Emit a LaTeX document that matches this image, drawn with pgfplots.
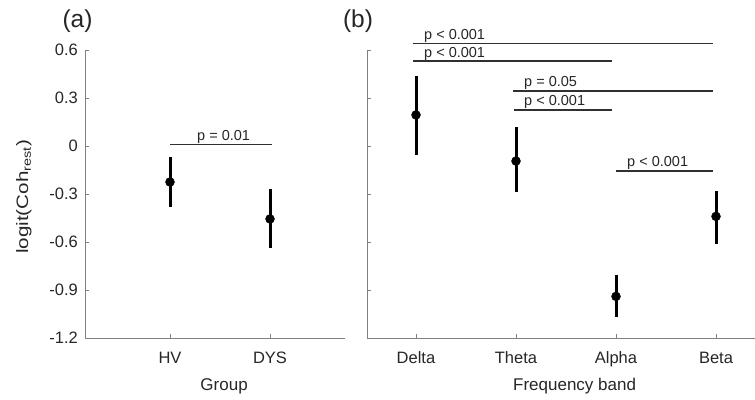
\documentclass[border=0pt]{standalone}
\usepackage{fontspec}
\setmainfont{Liberation Sans}
\usepackage{graphicx}
\usepackage{pgfplots}
\pgfplotsset{compat=1.18}
\definecolor{axgray}{HTML}{808080}
\definecolor{txt}{HTML}{262626}
\definecolor{sig}{HTML}{303030}
\tikzset{siglab/.style={anchor=base west, inner sep=0pt, text=txt, font=\fontsize{14.5}{16}\selectfont, yshift=4pt}}
\begin{document}
\begin{tikzpicture}[x=1pt,y=1pt]
\path[use as bounding box] (0,0) rectangle (755,399);
\pgfplotsset{
  myax/.style={
    scale only axis, height=288pt, ymin=-1.2, ymax=0.6,
    ytick={-1.2,-0.9,-0.6,-0.3,0,0.3,0.6},
    axis x line*=bottom, axis y line*=left,
    axis line style={draw=axgray, line width=0.8pt, -},
    tick style={draw=axgray, line width=0.8pt},
    tick align=inside, major tick length=4pt,
    minor tick num=0,
    clip=false,
    xtick=data,
    every tick label/.append style={text=txt, font=\fontsize{16.5}{18}\selectfont},
    yticklabel style={anchor=east, inner sep=0pt, xshift=-7pt},
    xticklabel style={anchor=base, inner sep=0pt, yshift=-25pt},
    xlabel style={at={(axis description cs:0.535,0)}, anchor=base, yshift=-52pt, text=txt, inner sep=0pt, font=\fontsize{17}{19}\selectfont},
  },
  ebar/.style={black, only marks, mark=*, mark size=4.5pt,
    error bars/.cd, y dir=both, y explicit,
    error bar style={line width=3pt, black}, error mark=none},
  sigline/.style={sig, line width=1.1pt, no marks},
}
\begin{axis}[myax, at={(85pt,61pt)}, anchor=south west, width=260pt,
  xmin=0.15, xmax=2.75,
  xticklabels={HV,DYS},
  yticklabels={-1.2,-0.9,-0.6,-0.3,0,0.3,0.6},
  xlabel={Group},
  ylabel={\scalebox{1.25}[1]{logit(Coh\textsubscript{rest})}},
  ylabel style={at={(axis description cs:-0.235,0.49)}, anchor=center, text=txt, font=\fontsize{16.5}{18}\selectfont},
]
\addplot[ebar] table[x=x, y=y, y error plus=ep, y error minus=em] {
x y ep em
1 -0.225 0.155 0.155
2 -0.456 0.190 0.184
};
\addplot[sigline] coordinates {(1,0.01) (2.02,0.01)};
\node[siglab] at (axis cs:1.27,0.01) {p = 0.01};
\end{axis}
\begin{axis}[myax, at={(367pt,61pt)}, anchor=south west, width=388pt,
  xmin=0.51, xmax=4.39,
  xticklabels={Delta,Theta,Alpha,Beta},
  yticklabels={},
  xlabel={Frequency band},
]
\addplot[ebar] table[x=x, y=y, y error plus=ep, y error minus=em] {
x y ep em
1 0.194 0.246 0.250
2 -0.094 0.214 0.196
3 -0.940 0.134 0.130
4 -0.440 0.160 0.170
};
\addplot[sigline] coordinates {(0.965,0.642) (3.965,0.642)};
\addplot[sigline] coordinates {(0.97,0.531) (2.96,0.531)};
\addplot[sigline] coordinates {(1.97,0.344) (3.965,0.344)};
\addplot[sigline] coordinates {(1.98,0.225) (2.955,0.225)};
\addplot[sigline] coordinates {(3.0,-0.156) (3.965,-0.156)};
\node[siglab] at (axis cs:1.08,0.642) {p < 0.001};
\node[siglab] at (axis cs:1.08,0.531) {p < 0.001};
\node[siglab] at (axis cs:2.08,0.344) {p = 0.05};
\node[siglab] at (axis cs:2.08,0.225) {p < 0.001};
\node[siglab] at (axis cs:3.11,-0.156) {p < 0.001};
\end{axis}
\node[font=\fontsize{24.5}{26}\selectfont, text=txt, anchor=base, inner sep=0pt] at (77.5,371) {(a)};
\node[font=\fontsize{24.5}{26}\selectfont, text=txt, anchor=base, inner sep=0pt] at (358,371) {(b)};
\end{tikzpicture}
\end{document}
